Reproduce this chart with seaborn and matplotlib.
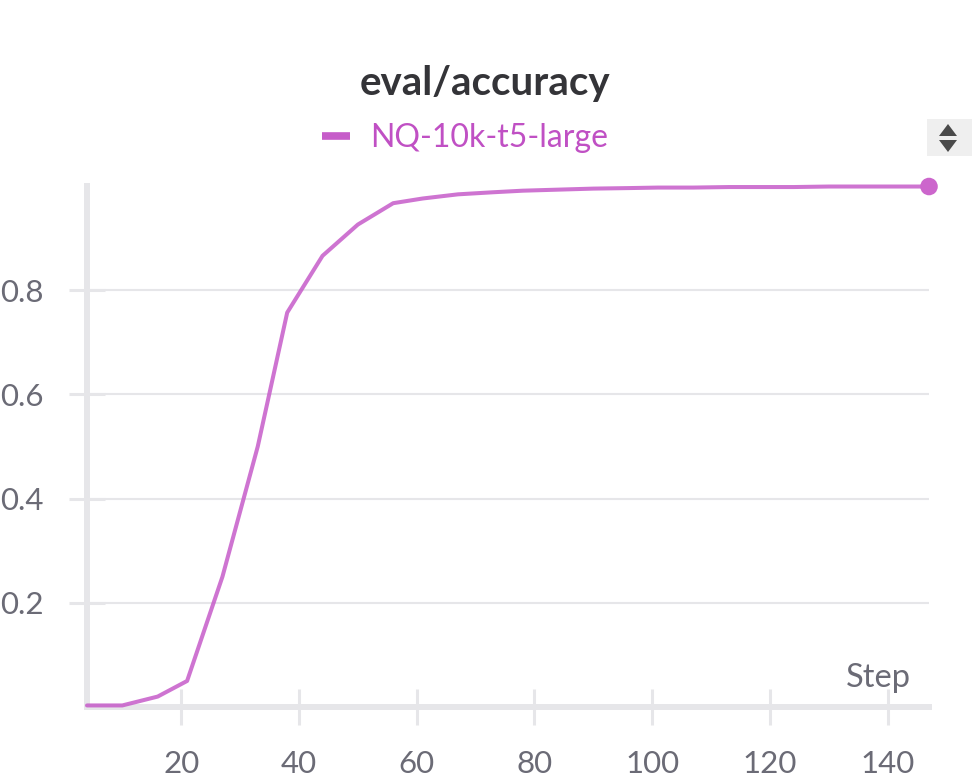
import matplotlib
matplotlib.use("Agg")
import matplotlib.pyplot as plt
from matplotlib.lines import Line2D
from matplotlib.patches import Rectangle, Polygon
import seaborn as sns
import pandas as pd

steps = [4, 10, 16, 21, 27, 33, 38, 44, 50, 56, 61, 67, 73, 78, 84, 90, 96,
         101, 107, 113, 118, 124, 130, 136, 141, 147]
accuracy = [0.003, 0.003, 0.02, 0.05, 0.25, 0.50, 0.757, 0.866, 0.926, 0.967,
            0.976, 0.984, 0.988, 0.991, 0.993, 0.995, 0.996, 0.997, 0.997,
            0.998, 0.998, 0.998, 0.999, 0.999, 0.999, 0.999]
run_name = "NQ-10k-t5-large"
title = "eval/accuracy"
xticks = [20, 40, 60, 80, 100, 120, 140]
yticks = [0.2, 0.4, 0.6, 0.8]

df = pd.DataFrame({"Step": steps, "acc": accuracy})

sns.set_theme(style="white")
plt.rcParams["font.family"] = ["Lato", "DejaVu Sans"]

LINE = "#c65cc9"
GRID = "#e6e6e9"
TXT = "#6b6b76"

W, H = 972, 783
fig = plt.figure(figsize=(W / 100, H / 100), dpi=100)
fig.patch.set_facecolor("white")
ax = fig.add_axes([87 / W, 76 / H, 842 / W, 521 / H])

sns.lineplot(data=df, x="Step", y="acc", ax=ax, color=LINE, lw=2.9,
             alpha=0.85, clip_on=False, zorder=3)
last = df.iloc[-1]
ax.scatter([last["Step"]], [last["acc"]], s=160, color="#cc66cc",
           zorder=4, clip_on=False, edgecolor="none")

ax.set_xlim(steps[0], steps[-1])
ax.set_ylim(0, 1.0)
ax.set_xticks(xticks)
ax.set_yticks(yticks)
ax.set_xticklabels([str(t) for t in xticks])
ax.set_yticklabels([f"{t:.1f}" for t in yticks])
ax.set_xlabel("")
ax.set_ylabel("")

for s in ["top", "right"]:
    ax.spines[s].set_visible(False)
for s in ["left", "bottom"]:
    ax.spines[s].set_color(GRID)
    ax.spines[s].set_linewidth(4.3)
    ax.spines[s].set_zorder(1)

ax.grid(axis="y", color=GRID, lw=1.5, zorder=0)
ax.grid(axis="x", visible=False)
ax.tick_params(axis="both", which="major", bottom=True, left=True,
               direction="inout", length=26, width=2.2,
               color=GRID, labelsize=22.5, labelcolor=TXT, pad=18)

ax.text(0.979, 0.056, "Step", transform=ax.transAxes, ha="right",
        va="center", fontsize=23.5, color=TXT)

fig.text(485 / W, 1 - 84 / H, title, ha="center", va="center",
         fontsize=29, fontweight="bold", color="#343438")

handle = Line2D([], [], color=LINE, lw=5.5, solid_capstyle="butt")
leg = fig.legend([handle], [run_name], loc="center",
                 bbox_to_anchor=(465 / W, 1 - 138 / H), frameon=False,
                 handlelength=0.88, handletextpad=0.62, fontsize=23,
                 labelcolor="#c050c4", borderpad=0, borderaxespad=0)

# scroll widget at top right
fig.patches.append(Rectangle((927 / W, 1 - 156 / H), 50 / W, 37 / H,
                             transform=fig.transFigure, facecolor="#efefef",
                             edgecolor="none"))
def fxy(px, py):
    return (px / W, 1 - py / H)
fig.patches.append(Polygon([fxy(939, 136), fxy(957, 136), fxy(948, 124)],
                           closed=True, transform=fig.transFigure,
                           facecolor="#4a4a4a", edgecolor="none"))
fig.patches.append(Polygon([fxy(939, 140), fxy(957, 140), fxy(948, 152)],
                           closed=True, transform=fig.transFigure,
                           facecolor="#4a4a4a", edgecolor="none"))

fig.savefig("out.png", dpi=100, facecolor="white")
